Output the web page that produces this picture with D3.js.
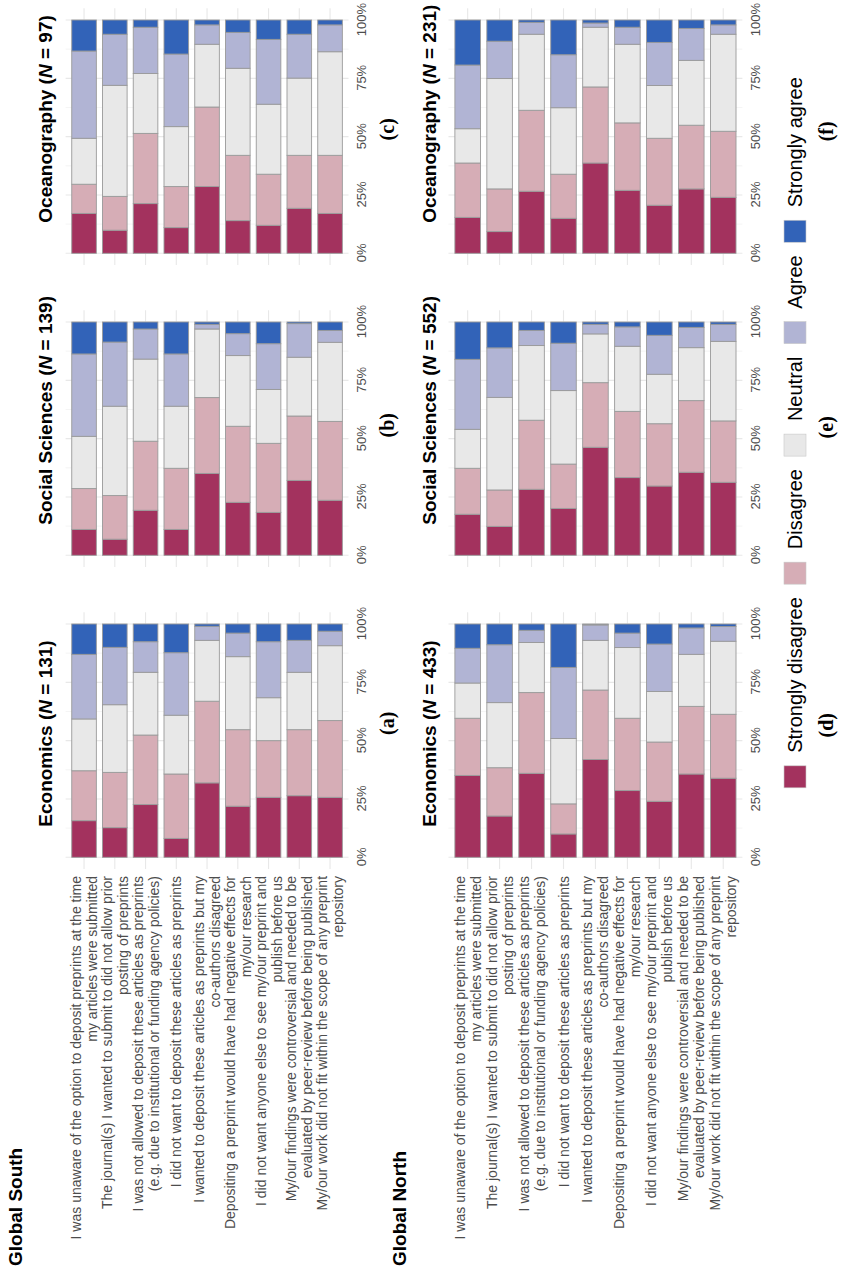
<!DOCTYPE html>
<html>
<head>
<meta charset="utf-8">
<title></title>
<script src="https://d3js.org/d3.v7.min.js"></script>
<style>
  body { margin: 0; background: #fff; }
  svg { display: block; }
</style>
</head>
<body>
<div id="my_dataviz"></div>
<script>
// answer levels, stacked from left (0%) to right
var levels = ["Strongly disagree", "Disagree", "Neutral", "Agree", "Strongly agree"];
var levelColors = ["#a3325e", "#d6adb6", "#e8e8e8", "#b1b4d4", "#3263b8"];

// the nine statements (already broken in lines)
var statements = [
  ["I was unaware of the option to deposit preprints at the time", "my articles were submitted"],
  ["The journal(s) I wanted to submit to did not allow prior", "posting of preprints"],
  ["I was not allowed to deposit these articles as preprints", "(e.g. due to institutional or funding agency policies)"],
  ["I did not want to deposit these articles as preprints"],
  ["I wanted to deposit these articles as preprints but my", "co-authors disagreed"],
  ["Depositing a preprint would have had negative effects for", "my/our research"],
  ["I did not want anyone else to see my/our preprint and", "publish before us"],
  ["My/our findings were controversial and needed to be", "evaluated by peer-review before being published"],
  ["My/our work did not fit within the scope of any preprint", "repository"]
];

var fields = ["Economics", "Social Sciences", "Oceanography"];
var nSouth = [131, 139, 97];
var nNorth = [433, 552, 231];
var tickValues = [0, 25, 50, 75, 100];
var tickLabels = ["0%", "25%", "50%", "75%", "100%"];

// shares in % per statement: SD, D, N, A, SA
var econSouth = [
  [15.7, 21.4, 22.2, 27.7, 13.0],
  [12.7, 23.7, 29.0, 24.6, 10.0],
  [22.6, 29.8, 26.9, 13.1, 7.6],
  [8.1, 27.6, 25.2, 26.8, 12.3],
  [31.9, 35.0, 26.1, 6.0, 1.0],
  [21.9, 32.8, 31.3, 10.1, 3.9],
  [25.7, 24.3, 18.4, 24.0, 7.6],
  [26.4, 28.3, 24.6, 13.7, 7.0],
  [25.7, 32.9, 32.1, 6.2, 3.1]
];
var socSouth = [
  [11.1, 17.5, 22.4, 35.3, 13.7],
  [6.9, 18.7, 38.3, 27.5, 8.6],
  [19.3, 29.6, 35.2, 12.9, 3.0],
  [11.1, 26.2, 26.6, 22.4, 13.7],
  [35.1, 32.5, 29.4, 2.0, 1.0],
  [22.7, 32.6, 30.3, 9.4, 5.0],
  [18.4, 29.6, 23.1, 19.6, 9.3],
  [32.1, 27.6, 25.2, 14.4, 0.7],
  [23.6, 33.8, 33.9, 5.1, 3.6]
];
var oceanSouth = [
  [17.1, 12.5, 19.7, 37.4, 13.3],
  [9.9, 14.5, 47.6, 21.9, 6.1],
  [21.3, 30.1, 25.7, 19.8, 3.1],
  [11.0, 17.6, 25.7, 31.1, 14.6],
  [28.6, 34.1, 26.9, 8.3, 2.1],
  [14.0, 28.0, 37.3, 15.4, 5.3],
  [12.0, 21.9, 30.0, 27.8, 8.3],
  [19.3, 22.7, 33.1, 18.8, 6.1],
  [17.1, 24.9, 44.4, 11.5, 2.1]
];
var econNorth = [
  [35.1, 24.5, 15.1, 14.9, 10.4],
  [17.7, 20.7, 27.9, 24.8, 8.9],
  [36.0, 34.6, 21.5, 5.2, 2.7],
  [10.0, 12.9, 28.0, 30.5, 18.6],
  [41.9, 29.8, 21.3, 6.6, 0.4],
  [28.6, 31.0, 30.3, 6.2, 3.9],
  [24.0, 25.4, 21.7, 20.3, 8.6],
  [35.7, 29.0, 22.3, 11.3, 1.7],
  [33.9, 27.4, 31.3, 6.3, 1.1]
];
var socNorth = [
  [17.6, 19.7, 16.7, 30.0, 16.0],
  [12.4, 15.6, 39.7, 21.2, 11.1],
  [28.3, 29.6, 32.0, 6.5, 3.6],
  [20.1, 19.0, 31.5, 20.3, 9.1],
  [46.3, 27.7, 20.9, 4.1, 1.0],
  [33.3, 28.4, 27.9, 8.3, 2.1],
  [29.7, 26.7, 21.2, 16.7, 5.7],
  [35.6, 30.7, 22.7, 8.7, 2.3],
  [31.3, 26.3, 34.1, 7.3, 1.0]
];
var oceanNorth = [
  [15.4, 23.3, 14.7, 27.3, 19.3],
  [9.3, 18.3, 47.3, 16.0, 9.1],
  [26.6, 34.7, 32.6, 5.1, 1.0],
  [15.0, 18.9, 28.5, 22.7, 14.9],
  [38.7, 32.6, 25.6, 1.8, 1.3],
  [27.0, 28.9, 33.7, 7.3, 3.1],
  [20.6, 28.7, 22.6, 18.5, 9.6],
  [27.6, 27.3, 27.8, 13.7, 3.6],
  [24.0, 28.3, 41.6, 4.0, 2.1]
];

var rows = [
  {name: "Global South", panels: [econSouth, socSouth, oceanSouth], n: nSouth, letters: ["(a)", "(b)", "(c)"],
   top: 65.6, bottom: 348.5, groupY: 22, titleY: 52, letterY: 394},
  {name: "Global North", panels: [econNorth, socNorth, oceanNorth], n: nNorth, letters: ["(d)", "(e)", "(f)"],
   top: 448.5, bottom: 742.4, groupY: 406, titleY: 436, letterY: 833}
];

// the figure is drawn landscape and then turned a quarter turn
var W = 1269, H = 841;
var sans = "'Liberation Sans', Arial, sans-serif";
var svg = d3.select("#my_dataviz")
  .append("svg")
    .attr("width", H)
    .attr("height", W)
  .append("g")
    .attr("transform", "translate(0," + W + ") rotate(-90)");

var colX0 = [411.7, 713.7, 1015.7], panelW = 233.3;
var letterOffset = [134, 130, 124];
var color = d3.scaleOrdinal().domain(levels).range(levelColors);
var stack = d3.stack().keys(levels);

rows.forEach(function(row, r) {
  svg.append("text")
    .attr("x", 3).attr("y", row.groupY)
    .style("font-family", sans).style("font-weight", "bold").style("font-size", "19px")
    .text(row.name);

  var y = d3.scaleBand()
    .domain(d3.range(statements.length))
    .range([row.top, row.bottom])
    .paddingInner(0.2).paddingOuter(0.2);

  row.panels.forEach(function(values, c) {
    var x = d3.scaleLinear().domain([-5, 105])
      .range([colX0[c] - panelW * 0.05, colX0[c] + panelW * 1.05]);
    var g = svg.append("g");

    // grid
    g.selectAll(".minor").data([12.5, 37.5, 62.5, 87.5]).enter().append("line")
      .attr("x1", function(d) { return x(d); }).attr("x2", function(d) { return x(d); })
      .attr("y1", row.top).attr("y2", row.bottom)
      .attr("stroke", "#efefef").attr("stroke-width", 0.7);
    g.selectAll(".major").data(tickValues).enter().append("line")
      .attr("x1", function(d) { return x(d); }).attr("x2", function(d) { return x(d); })
      .attr("y1", row.top).attr("y2", row.bottom)
      .attr("stroke", "#e8e8e8").attr("stroke-width", 1.1);
    g.selectAll(".cat").data(d3.range(statements.length)).enter().append("line")
      .attr("x1", x(-5)).attr("x2", x(105))
      .attr("y1", function(d) { return y(d) + y.bandwidth() / 2; })
      .attr("y2", function(d) { return y(d) + y.bandwidth() / 2; })
      .attr("stroke", "#e8e8e8").attr("stroke-width", 1.1);

    // stacked bars
    var table = values.map(function(v, i) {
      var o = {cat: i};
      levels.forEach(function(l, k) { o[l] = v[k]; });
      return o;
    });
    g.selectAll(".layer").data(stack(table)).enter().append("g")
      .attr("fill", function(d) { return color(d.key); })
      .selectAll("rect").data(function(d) { return d; }).enter().append("rect")
        .attr("x", function(d) { return x(d[0]); })
        .attr("width", function(d) { return x(d[1]) - x(d[0]); })
        .attr("y", function(d) { return y(d.data.cat); })
        .attr("height", y.bandwidth())
        .attr("stroke", "#9a9a9a").attr("stroke-width", 0.9);

    // percent ticks
    var ax = g.append("g")
      .attr("transform", "translate(0," + row.bottom + ")")
      .call(d3.axisBottom(x).tickValues(tickValues)
        .tickFormat(function(d, i) { return tickLabels[i]; })
        .tickSize(0).tickPadding(8));
    ax.select(".domain").remove();
    ax.selectAll("text").style("font-family", sans).style("font-size", "13px").attr("fill", "#4d4d4d");

    // panel title
    var t = g.append("text")
      .attr("x", colX0[c] + 30.6).attr("y", row.titleY)
      .style("font-family", sans).style("font-weight", "bold").style("font-size", "19px");
    t.append("tspan").text(fields[c] + " (");
    t.append("tspan").style("font-style", "italic").text("N");
    t.append("tspan").text(" = " + row.n[c] + ")");

    g.append("text")
      .attr("x", colX0[c] + letterOffset[c] - 2 * r).attr("y", row.letterY)
      .attr("text-anchor", "middle")
      .style("font-family", "'Liberation Serif', 'Times New Roman', serif")
      .style("font-weight", "bold").style("font-size", "20px")
      .text(row.letters[c]);

    // statement labels on the first column only
    if (c === 0) {
      g.selectAll(".lab").data(statements).enter().append("text")
        .attr("text-anchor", "end")
        .style("font-family", sans).style("font-size", "14px").attr("fill", "#4d4d4d")
        .each(function(lines, i) {
          var cy = y(i) + y.bandwidth() / 2;
          var first = cy - (lines.length - 1) * 8 + 5;
          d3.select(this).selectAll("tspan").data(lines).enter().append("tspan")
            .attr("x", x(-5) - 7)
            .attr("y", function(d, k) { return first + k * 16; })
            .text(function(d) { return d; });
        });
    }
  });
});

// legend under the bottom row
var legend = svg.append("g");
var lx = 0;
levels.forEach(function(l) {
  var item = legend.append("g").attr("transform", "translate(" + lx + ",0)");
  item.append("rect").attr("width", 22).attr("height", 22)
    .attr("fill", color(l)).attr("stroke", "#c8c8c8").attr("stroke-width", 0.6);
  var tx = item.append("text").attr("x", 35).attr("y", 18)
    .style("font-family", sans).style("font-size", "20px").attr("fill", "#000")
    .text(l);
  lx += 35 + tx.node().getComputedTextLength() + 13;
});
var legendW = lx - 13;
legend.attr("transform", "translate(" + (836.5 - legendW / 2) + ",784)");
</script>
</body>
</html>
